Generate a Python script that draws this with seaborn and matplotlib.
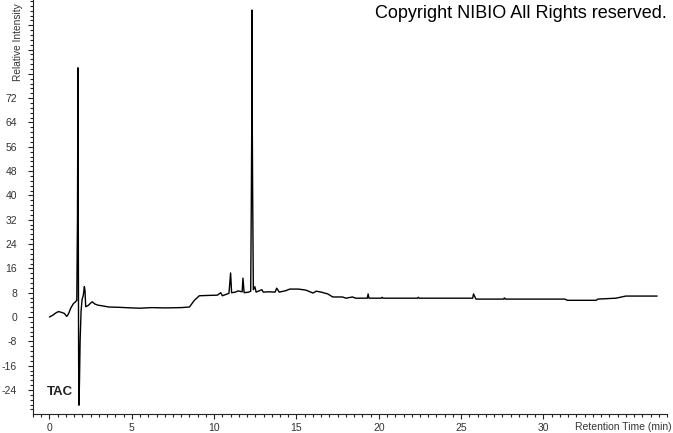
import numpy as np
import pandas as pd
import seaborn as sns
import matplotlib.pyplot as plt
from matplotlib.ticker import MultipleLocator

# chromatogram trace (retention time in min, relative intensity)
time_min = [0.00, 0.20, 0.40, 0.55, 0.75, 0.90, 1.05, 1.15, 1.30, 1.45, 1.58, 1.66,
            1.70, 1.73, 1.75, 1.77, 1.79, 1.82, 1.86, 1.92, 1.98, 2.05, 2.12, 2.16,
            2.20, 2.35, 2.50, 2.60, 2.75, 2.95, 3.30, 3.60, 4.20, 5.00, 5.50, 6.20,
            7.00, 8.00, 8.50, 8.80, 9.10, 9.60, 10.20, 10.40, 10.50, 10.90, 11.00, 11.06,
            11.30, 11.45, 11.70, 11.75, 11.82, 12.10, 12.22, 12.26, 12.28, 12.30, 12.32, 12.34,
            12.38, 12.47, 12.55, 12.90, 12.98, 13.30, 13.70, 13.80, 13.95, 14.30, 14.60, 15.10,
            15.40, 15.60, 16.00, 16.20, 16.50, 16.90, 17.20, 17.80, 18.00, 18.40, 18.60, 19.30,
            19.35, 19.40, 20.15, 20.20, 20.25, 22.35, 22.40, 22.45, 25.70, 25.75, 25.90, 27.60,
            27.62, 27.70, 31.30, 31.45, 33.20, 33.30, 34.40, 35.00, 36.90]
intensity = [0.0, 0.6, 1.4, 1.8, 1.5, 1.2, 0.2, 1.0, 3.0, 4.4, 5.0, 5.5,
             32.0, 82.0, 32.0, -14.0, -29.0, -22.0, -8.0, 2.0, 5.8, 7.0, 10.0, 8.5,
             3.4, 3.8, 4.6, 5.0, 4.3, 3.9, 3.6, 3.3, 3.2, 3.0, 2.9, 3.1,
             3.0, 3.1, 3.3, 5.5, 7.0, 7.1, 7.2, 8.0, 7.0, 7.8, 14.5, 8.0,
             8.2, 8.6, 8.3, 12.8, 8.0, 8.2, 8.5, 40.0, 60.0, 101.0, 60.0, 40.0,
             9.0, 10.0, 8.2, 9.0, 8.2, 8.3, 8.2, 9.5, 8.2, 8.6, 9.2, 9.2,
             9.0, 8.8, 7.9, 8.5, 8.2, 7.6, 6.6, 6.6, 6.2, 6.6, 6.2, 6.2,
             7.6, 6.2, 6.2, 6.5, 6.2, 6.2, 6.5, 6.2, 6.2, 7.6, 5.9, 5.9,
             6.3, 5.9, 5.9, 5.5, 5.5, 5.9, 6.2, 6.9, 6.9]

x_ticks = [0, 5, 10, 15, 20, 25, 30]
y_ticks = [-24, -16, -8, 0, 8, 16, 24, 32, 40, 48, 56, 64, 72, 80, 88, 96]
y_labels = ['-24', '-16', '-8', '0', '8', '16', '24', '32', '40', '48', '56', '64', '72', '', '', '']


def main():
    df = pd.DataFrame({'time': time_min, 'intensity': intensity})

    sns.set_style('ticks')
    plt.rcParams['font.family'] = ['Liberation Sans', 'DejaVu Sans']

    fig = plt.figure(figsize=(6.73, 4.33), dpi=100)
    ax = fig.add_axes([33 / 673, 19 / 433, 634 / 673, 414 / 433])

    sns.lineplot(data=df, x='time', y='intensity', color='black', linewidth=1.0,
                 sort=False, estimator=None, ax=ax)

    ax.set_xlim(-1.0, 37.5)
    ax.set_ylim(-31.9, 104.3)
    ax.set_xticks(x_ticks)
    ax.set_yticks(y_ticks)
    ax.set_yticklabels(y_labels)
    ax.xaxis.set_minor_locator(MultipleLocator(0.5))
    ax.yaxis.set_minor_locator(MultipleLocator(1.6))
    ax.set_xlabel('')
    ax.set_ylabel('')

    for side in ['top', 'right']:
        ax.spines[side].set_visible(False)
    for side in ['left', 'bottom']:
        ax.spines[side].set_color('#222222')
        ax.spines[side].set_linewidth(0.8)

    ax.tick_params(axis='both', which='major', length=3.5, width=0.8, color='#222222',
                   labelsize=7.5, labelcolor='#333333')
    ax.tick_params(axis='both', which='minor', length=2, width=0.8, color='#222222')
    ax.tick_params(axis='y', which='major', pad=8)
    ax.tick_params(axis='x', which='major', pad=3)

    # texts placed like the original instrument printout
    fig.text(18.5 / 673, 1 - 81 / 433, 'Relative Intensity', rotation=90,
             ha='center', va='bottom', fontsize=7.3, color='#333333')
    fig.text(667 / 673, 1 - 14 / 433, 'Copyright NIBIO All Rights reserved.',
             ha='right', va='center', fontsize=13, color='black')
    fig.text(672 / 673, 1 - 427 / 433, 'Retention Time (min)',
             ha='right', va='center', fontsize=7.5, color='#333333')
    ax.text(47 / 673, 1 - 392 / 433, 'TAC', transform=fig.transFigure,
            ha='left', va='center', fontsize=9.5, fontweight='bold', color='#222222')

    fig.savefig('out.png', dpi=100)


if __name__ == '__main__':
    main()
